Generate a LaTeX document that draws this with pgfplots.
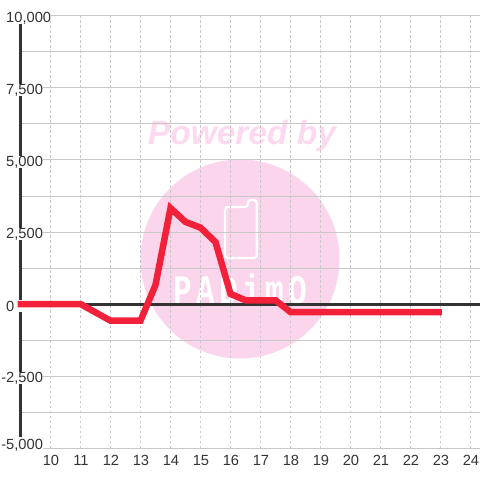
\documentclass[border=0pt]{standalone}
\usepackage{pgfplots}
\pgfplotsset{compat=1.18}
\usepackage{fontspec}
\setmainfont{Liberation Sans}
\setmonofont{Liberation Mono}
\definecolor{gridc}{HTML}{C8C8C8}
\definecolor{dark}{HTML}{333333}
\definecolor{redl}{HTML}{F22038}
\definecolor{wm}{HTML}{FBD5EC}
\definecolor{wmt}{HTML}{FDD9F0}
\pgfplotsset{vg/.style={gridc,line width=1pt,dash pattern=on 2.5pt off 2.5pt,forget plot},
 ya/.style={dark,line width=3pt,forget plot}}
\begin{document}
\begin{tikzpicture}
\path[use as bounding box] (0pt,0pt) rectangle (480pt,480pt);
\fill[wm] (240pt,221pt) circle (99.5pt);
\node[text=wmt,font=\bfseries\itshape\fontsize{33.5}{34}\selectfont,inner sep=0] at (242pt,344pt) {Powered by};
\draw[white,line width=2.2pt,rounded corners=3pt] (225pt,222pt) -- (225pt,273pt) -- (248pt,273pt) -- (248pt,280pt) -- (256.7pt,280pt) -- (256.7pt,222pt) -- cycle;
\node[text=white,font=\ttfamily\bfseries\fontsize{42}{42}\selectfont,inner sep=0] at (240pt,191pt) {\scalebox{0.74}[1]{P\hspace{5.8pt}A\hspace{5.8pt}D\hspace{5.8pt}i\hspace{5.8pt}m\hspace{5.8pt}O}};
\begin{axis}[
  at={(20.5pt,32pt)},anchor=south west,
  width=459.5pt,height=432pt,scale only axis,
  xmin=9,xmax=24.317,ymin=-5000,ymax=10000,
  axis line style={draw=none},
  clip=false,
  scaled ticks=false,
  tick style={draw=none},
  xtick={10,...,24},
  ytick={-5000,-2500,0,2500,5000,7500,10000},
  minor ytick={-3750,-1250,1250,3750,6250,8750},
  yticklabels={\raisebox{11pt}{\llap{-}5{,}000},\llap{-}2{,}500,0,{2,500},{5,000},{7,500},{10,000}},
  ymajorgrids,yminorgrids,
  major grid style={gridc,line width=1pt},
  minor grid style={gridc,line width=1pt},
  /pgf/number format/assume math mode=true,
  tick label style={font=\fontsize{14.7}{15}\selectfont,text=dark},
  x tick label style={yshift=-4pt,xshift=0.5pt},
  y tick label style={anchor=west,fill=white,inner xsep=0pt,inner ysep=0.5pt,xshift=-14.5pt,yshift=-2pt},
  ytick pos=left,
]
\addplot[vg] coordinates {(10,-5000)(10,10000)};
\addplot[vg] coordinates {(11,-5000)(11,10000)};
\addplot[vg] coordinates {(12,-5000)(12,10000)};
\addplot[vg] coordinates {(13,-5000)(13,10000)};
\addplot[vg] coordinates {(14,-5000)(14,10000)};
\addplot[vg] coordinates {(15,-5000)(15,10000)};
\addplot[vg] coordinates {(16,-5000)(16,10000)};
\addplot[vg] coordinates {(17,-5000)(17,10000)};
\addplot[vg] coordinates {(18,-5000)(18,10000)};
\addplot[vg] coordinates {(19,-5000)(19,10000)};
\addplot[vg] coordinates {(20,-5000)(20,10000)};
\addplot[vg] coordinates {(21,-5000)(21,10000)};
\addplot[vg] coordinates {(22,-5000)(22,10000)};
\addplot[vg] coordinates {(23,-5000)(23,10000)};
\addplot[vg] coordinates {(24,-5000)(24,10000)};
\addplot[ya] coordinates {(9,9722)(9,7639)};
\addplot[ya] coordinates {(9,7222)(9,5139)};
\addplot[ya] coordinates {(9,4722)(9,2639)};
\addplot[ya] coordinates {(9,2222)(9,139)};
\addplot[ya] coordinates {(9,-278)(9,-2361)};
\addplot[ya] coordinates {(9,-2778)(9,-4618)};
\addplot[dark,line width=3pt,forget plot] coordinates {(8.95,0)(24.317,0)};
\addplot[redl,line width=6.5pt,line join=miter] coordinates {
(8.9,0)(10,0)(11,0)(12,-580)(13,-580)(13.5,660)(14,3330)(14.5,2850)(15,2650)(15.5,2150)(16,350)(16.5,130)(17,130)(17.5,130)(18,-280)(19,-280)(20,-280)(21,-280)(22,-280)(23.05,-280)};
\end{axis}
\end{tikzpicture}
\end{document}
